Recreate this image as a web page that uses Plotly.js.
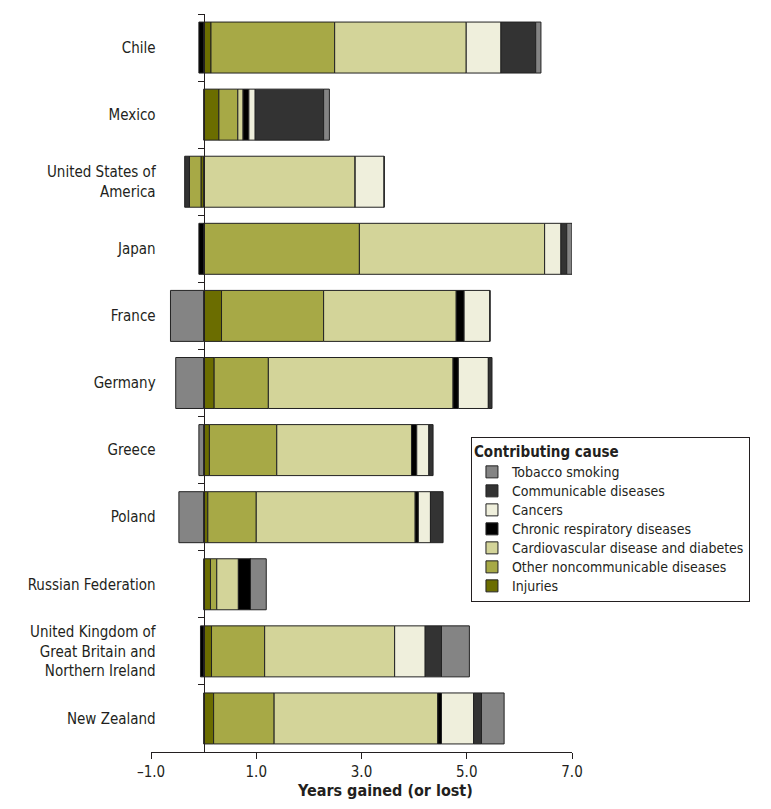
<!DOCTYPE html>
<html>
<head>
<meta charset="utf-8">
<script src="https://cdn.plot.ly/plotly-3.0.1.min.js"></script>
<style>html,body{margin:0;padding:0;background:#fff;}#chart{width:771px;height:809px;}</style>
</head>
<body>
<div id="chart"></div>
<script>
var countries = ["Chile", "Mexico", "United States of<br>America", "Japan", "France", "Germany", "Greece", "Poland", "Russian Federation", "United Kingdom of<br>Great Britain and<br>Northern Ireland", "New Zealand"];

var injuries      = [0.14, 0.29, -0.05, 0.00, 0.34, 0.20, 0.11, 0.08, 0.13, 0.15, 0.19];
var otherNCD      = [2.35, 0.36, -0.22, 2.96, 1.94, 1.03, 1.28, 0.92, 0.12, 1.01, 1.15];
var cardio        = [2.50, 0.10, 2.88, 3.52, 2.52, 3.51, 2.56, 3.02, 0.41, 2.47, 3.11];
var chronicResp   = [-0.09, 0.11, 0.00, -0.09, 0.15, 0.10, 0.10, 0.06, 0.23, -0.06, 0.07];
var cancers       = [0.66, 0.12, 0.55, 0.31, 0.49, 0.57, 0.23, 0.23, 0.00, 0.58, 0.61];
var communicable  = [0.66, 1.30, -0.09, 0.11, 0.00, 0.07, 0.08, 0.24, 0.00, 0.31, 0.15];
var tobacco       = [0.10, 0.11, 0.00, 0.10, -0.63, -0.53, -0.09, -0.47, 0.30, 0.53, 0.43];

var seriesNames = ["Injuries", "Other noncommunicable diseases", "Cardiovascular disease and diabetes", "Chronic respiratory diseases", "Cancers", "Communicable diseases", "Tobacco smoking"];
var seriesColors = ["#6b6d00", "#a7a946", "#d3d499", "#000000", "#efefdc", "#333333", "#848484"];
var seriesValues = [injuries, otherNCD, cardio, chronicResp, cancers, communicable, tobacco];

var xTickVals = [-1, 1, 3, 5, 7];
var xTickText = ["\u20131.0", "1.0", "3.0", "5.0", "7.0"];

var FONT = "'DejaVu Sans Condensed', 'Liberation Sans Narrow', Arial, sans-serif";

var traces = seriesNames.map(function (name, i) {
  return {
    type: "bar",
    orientation: "h",
    name: '<span style="font-size:14px">' + name + '</span>',
    y: countries,
    x: seriesValues[i],
    marker: { color: seriesColors[i], line: { color: "#222222", width: 1 } },
    hoverinfo: "x+name"
  };
});

var layout = {
  width: 771,
  height: 809,
  margin: { l: 151, r: 199, t: 14, b: 57 },
  paper_bgcolor: "#ffffff",
  plot_bgcolor: "#ffffff",
  barmode: "relative",
  bargap: 0.24,
  font: { family: FONT, size: 15, color: "#231f20" },
  showlegend: true,
  xaxis: {
    range: [-1, 7],
    tickvals: xTickVals,
    ticktext: xTickText,
    showgrid: false,
    zeroline: false,
    showline: true,
    linecolor: "#231f20",
    linewidth: 1,
    ticks: "outside",
    ticklen: 6,
    tickcolor: "#231f20",
    tickfont: { family: FONT, size: 15, color: "#231f20" }
  },
  yaxis: {
    type: "category",
    autorange: "reversed",
    anchor: "free",
    position: 0.125,
    showgrid: false,
    zeroline: false,
    showline: true,
    linecolor: "#231f20",
    linewidth: 1,
    ticks: "outside",
    tickson: "boundaries",
    ticklen: 6,
    tickcolor: "#231f20",
    ticklabelstandoff: 45,
    tickfont: { family: FONT, size: 15, color: "#231f20" }
  },
  legend: {
    x: 0.76,
    y: 0.427,
    xanchor: "left",
    yanchor: "top",
    traceorder: "reversed",
    bgcolor: "#ffffff",
    bordercolor: "#231f20",
    borderwidth: 1,
    title: { text: "<b>Contributing cause</b>", font: { family: FONT, size: 15, color: "#231f20" }, side: "top" },
    font: { family: FONT, size: 12, color: "#231f20" },
    itemwidth: 30
  },
  annotations: [{
    xref: "paper", yref: "paper",
    x: 0.556, y: 0, yshift: -38,
    xanchor: "center", yanchor: "middle",
    showarrow: false,
    text: "<b>Years gained (or lost)</b>",
    font: { family: FONT, size: 16, color: "#231f20" }
  }]
};

Plotly.newPlot("chart", traces, layout, { displayModeBar: false, staticPlot: true });
</script>
</body>
</html>
